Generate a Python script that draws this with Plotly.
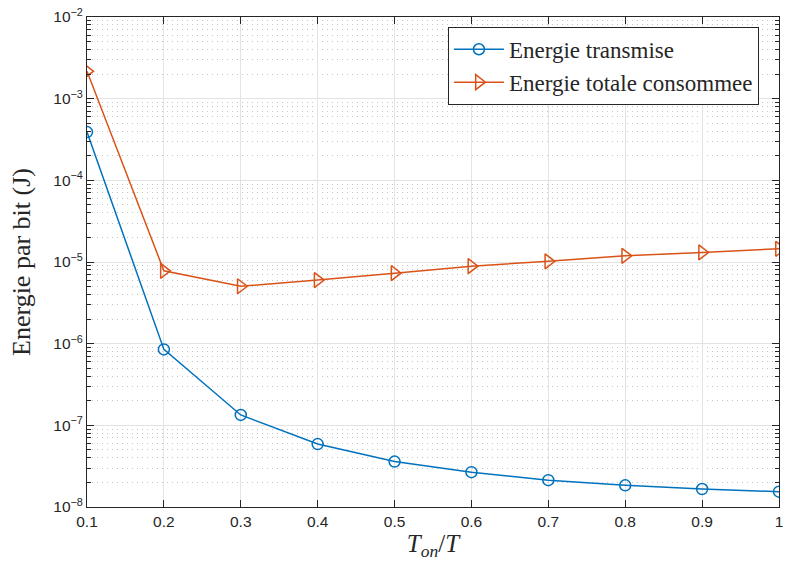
import plotly.graph_objects as go

x_vals = [0.1, 0.2, 0.3, 0.4, 0.5, 0.6, 0.7, 0.8, 0.9, 1.0]
e_transmise = [3.9e-4, 8.5e-7, 1.34e-7, 5.9e-8, 3.6e-8, 2.67e-8, 2.13e-8, 1.84e-8, 1.66e-8, 1.54e-8]
e_totale = [2.17e-3, 7.8e-6, 5.05e-6, 6.0e-6, 7.3e-6, 8.9e-6, 1.02e-5, 1.19e-5, 1.31e-5, 1.45e-5]

x_ticks = [0.1, 0.2, 0.3, 0.4, 0.5, 0.6, 0.7, 0.8, 0.9, 1.0]
x_ticktext = ["0.1", "0.2", "0.3", "0.4", "0.5", "0.6", "0.7", "0.8", "0.9", "1"]
y_ticks = [1e-8, 1e-7, 1e-6, 1e-5, 1e-4, 1e-3, 1e-2]
y_ticktext = ["10<sup>\u22128</sup>", "10<sup>\u22127</sup>", "10<sup>\u22126</sup>", "10<sup>\u22125</sup>",
              "10<sup>\u22124</sup>", "10<sup>\u22123</sup>", "10<sup>\u22122</sup>"]
minor_mult = [2, 3, 4, 5, 6, 7, 8, 9]
y_minor = [m * d for d in y_ticks[:-1] for m in minor_mult]

blue = "#0072BD"
red = "#D95319"
serif = "Liberation Serif, serif"
sans = "Liberation Sans, Arial, sans-serif"
dark = "#262626"

fig = go.Figure()
fig.add_trace(go.Scatter(
    x=x_vals, y=e_transmise, mode="lines+markers", name="Energie transmise",
    line=dict(color=blue, width=1.5),
    marker=dict(symbol="circle-open", size=11, color=blue, line=dict(width=1.5, color=blue)),
))
fig.add_trace(go.Scatter(
    x=x_vals, y=e_totale, mode="lines+markers", name="Energie totale consommee",
    line=dict(color=red, width=1.5),
    marker=dict(symbol="triangle-right-open", size=13, color=red, line=dict(width=1.5, color=red)),
))

axis_common = dict(
    showline=True, linecolor=dark, linewidth=1, mirror="ticks",
    ticks="inside", tickcolor=dark, ticklen=7,
    tickfont=dict(family=sans, size=15.5, color=dark),
    showgrid=True, gridcolor="#e3e3e3", gridwidth=1, zeroline=False,
    ticklabeloverflow="allow",
)

fig.update_xaxes(
    range=[0.1, 1.0], tickvals=x_ticks, ticktext=x_ticktext,
    title=dict(text="<i>T</i><sub><i>on</i></sub>/<i>T</i>",
               font=dict(family=serif, size=25, color=dark), standoff=3),
    **axis_common,
)
fig.update_yaxes(
    type="log", range=[-8, -2], tickvals=y_ticks, ticktext=y_ticktext,
    title=dict(text="Energie par bit (J)", font=dict(family=serif, size=26, color=dark), standoff=15),
    minor=dict(tickmode="array", tickvals=y_minor, ticks="inside", ticklen=4, tickcolor=dark,
               showgrid=True, gridcolor="#c4c4c4", griddash="1px,4px", gridwidth=1),
    **axis_common,
)

fig.update_layout(
    width=789, height=567,
    margin=dict(l=87, r=6, t=13, b=60),
    plot_bgcolor="white", paper_bgcolor="white",
    legend=dict(
        x=0.971, y=0.98, xanchor="right", yanchor="top",
        bgcolor="white", bordercolor=dark, borderwidth=1,
        font=dict(family=serif, size=23, color=dark),
        tracegroupgap=0, itemwidth=50,
    ),
)

fig.write_html("out.html", config={"displayModeBar": False},
               post_script="document.body.style.margin='0';document.body.style.overflow='hidden';")
